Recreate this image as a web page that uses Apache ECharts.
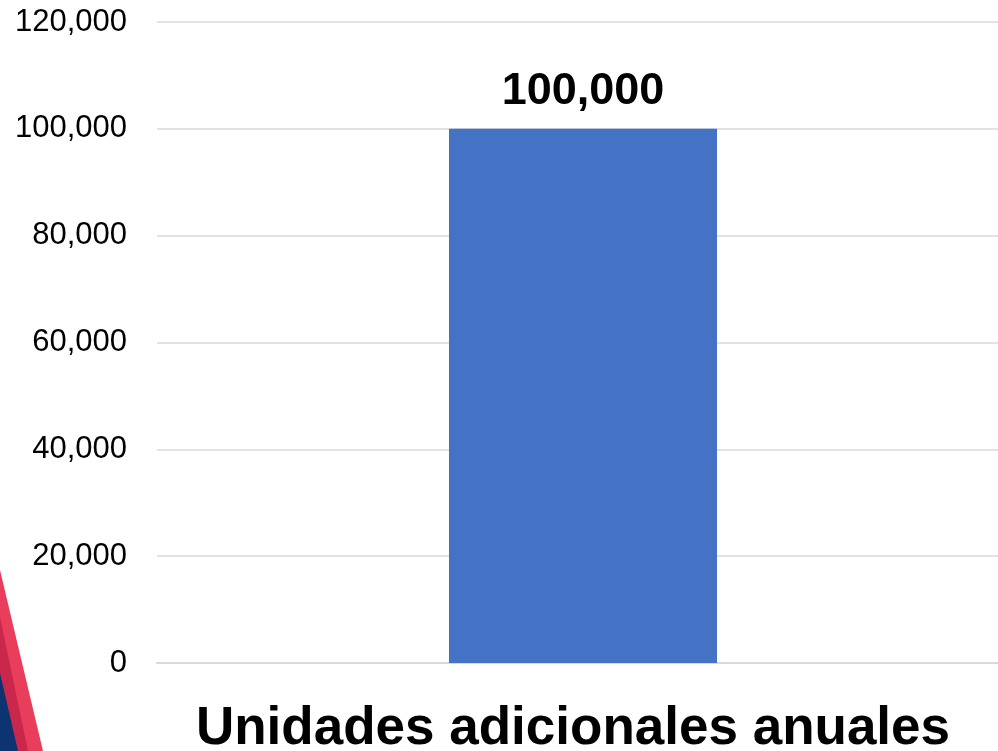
<!DOCTYPE html>
<html><head><meta charset="utf-8">
<script src="https://cdn.jsdelivr.net/npm/echarts@6/dist/echarts.min.js"></script>
<style>html,body{margin:0;padding:0;background:#fff}#c{width:998px;height:751px}</style>
</head><body><div id="c"></div>
<script>
const categories = ['Unidades adicionales anuales'];
const values = [100000];
const yTicks = [0, 20000, 40000, 60000, 80000, 100000, 120000];

const chart = echarts.init(document.getElementById('c'));
chart.setOption({
  animation: false,
  grid: { left: 157, top: 22, bottom: 88, right: -11, containLabel: false, outerBoundsMode: 'none' },
  xAxis: {
    type: 'category', data: categories,
    axisLine: { show: true, lineStyle: { color: '#d9d9d9', width: 2 } },
    axisTick: { show: false },
    axisLabel: { interval: 0, margin: 40, padding: [0, 20, 0, 0], color: '#000', fontFamily: 'Liberation Sans, Arial', fontWeight: 'bold', fontSize: 53 }
  },
  yAxis: {
    type: 'value', min: yTicks[0], max: yTicks[yTicks.length - 1], interval: 20000,
    axisLine: { show: false }, axisTick: { show: false },
    splitLine: { lineStyle: { color: '#d9d9d9', width: 1.5 } },
    axisLabel: { margin: 30, color: '#000', fontFamily: 'Liberation Sans, Arial', fontSize: 31,
      formatter: v => v.toLocaleString('en-US') }
  },
  series: [{
    type: 'bar', data: values, barWidth: 268,
    itemStyle: { color: '#4472c4' },
    label: { show: true, position: 'top', distance: 15, color: '#000', fontFamily: 'Liberation Sans, Arial', fontWeight: 'bold', fontSize: 45,
      formatter: p => p.value.toLocaleString('en-US') }
  }],
  graphic: [
    { type: 'polygon', silent: true, shape: { points: [[0,570],[43,751],[0,751]] }, style: { fill: '#e83e5c' } },
    { type: 'polygon', silent: true, shape: { points: [[0,617],[28,751],[0,751]] }, style: { fill: '#c9274b' } },
    { type: 'polygon', silent: true, shape: { points: [[0,673],[18,751],[0,751]] }, style: { fill: '#0b3470' } }
  ]
});
</script></body></html>
